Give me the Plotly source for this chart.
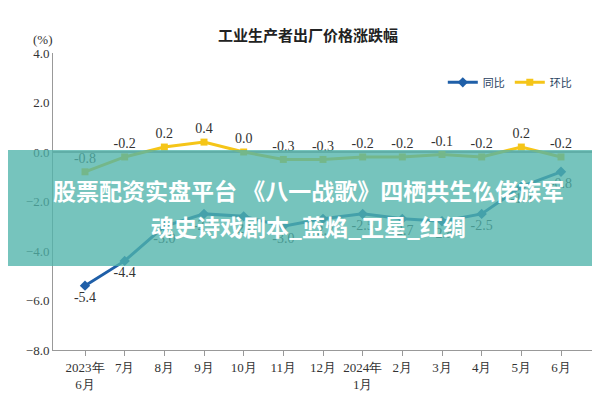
import plotly.graph_objects as go

months = ['2023年<br>6月', '7月', '8月', '9月', '10月', '11月', '12月', '2024年<br>1月',
          '2月', '3月', '4月', '5月', '6月']
yoy = [-5.4, -4.4, -3.0, -2.5, -2.6, -3.0, -2.7, -2.5, -2.7, -2.8, -2.5, -1.4, -0.8]
mom = [-0.8, -0.2, 0.2, 0.4, 0.0, -0.3, -0.3, -0.2, -0.2, -0.1, -0.2, 0.2, -0.2]

serif = 'Liberation Serif'
L, R, T, B = 45, 15, 45, 58
ph = 400 - T - B
pw = 600 - L - R

def py(pix):
    return (400 - B - pix) / ph

fig = go.Figure()
fig.add_trace(go.Scatter(
    x=months, y=yoy, name='同比', mode='lines+markers+text',
    line=dict(color='#1f5fa8', width=3), marker=dict(symbol='diamond', size=8),
    text=[f'{v:.1f}' for v in yoy], textposition='bottom center',
    textfont=dict(family=serif, size=14, color='#333')))
fig.add_trace(go.Scatter(
    x=months, y=mom, name='环比', mode='lines+markers+text',
    line=dict(color='#f5c518', width=3), marker=dict(symbol='square', size=7),
    text=[f'{v:.1f}' for v in mom], textposition='top center',
    textfont=dict(family=serif, size=14, color='#333')))

fig.update_layout(
    width=600, height=400, margin=dict(l=L, r=R, t=T, b=B),
    paper_bgcolor='white', plot_bgcolor='white',
    title=dict(text='<b>工业生产者出厂价格涨跌幅</b>', x=0.5, y=0.945,
               font=dict(family='Noto Sans CJK SC', size=15, color='#222')),
    legend=dict(orientation='h', x=0.97, xanchor='right', y=0.95, yanchor='top',
                font=dict(family='Noto Sans CJK SC', size=11)),
)
fig.update_xaxes(showline=True, linecolor='#999', ticks='outside', tickcolor='#999',
                 tickfont=dict(family=serif, size=13, color='#333'), showgrid=False)
fig.update_yaxes(range=[-8, 4], dtick=2, tickformat='.1f', showgrid=False,
                 showline=True, linecolor='#999', zeroline=True, zerolinecolor='#999',
                 tickfont=dict(family=serif, size=13, color='#333'))
fig.add_annotation(text='(%)', xref='paper', yref='paper', x=-0.04, y=py(22),
                   showarrow=False, font=dict(family=serif, size=13, color='#333'))

# overlay banner
fig.add_shape(type='rect', xref='paper', yref='paper', x0=-0.2, x1=1.2,
              y0=py(258), y1=py(142),
              fillcolor='rgba(80,180,170,0.78)', line_width=0, layer='above')
cx = (300 - L) / pw
fig.add_annotation(text='<b>股票配资实盘平台 《八一战歌》四栖共生仫佬族军</b>',
                   xref='paper', yref='paper', x=cx, y=py(182),
                   showarrow=False, font=dict(family='Noto Sans CJK SC', size=23, color='white'))
fig.add_annotation(text='<b>魂史诗戏剧本_蓝焰_卫星_红绸</b>',
                   xref='paper', yref='paper', x=cx, y=py(218),
                   showarrow=False, font=dict(family='Noto Sans CJK SC', size=23, color='white'))

fig.write_html('out.html')
